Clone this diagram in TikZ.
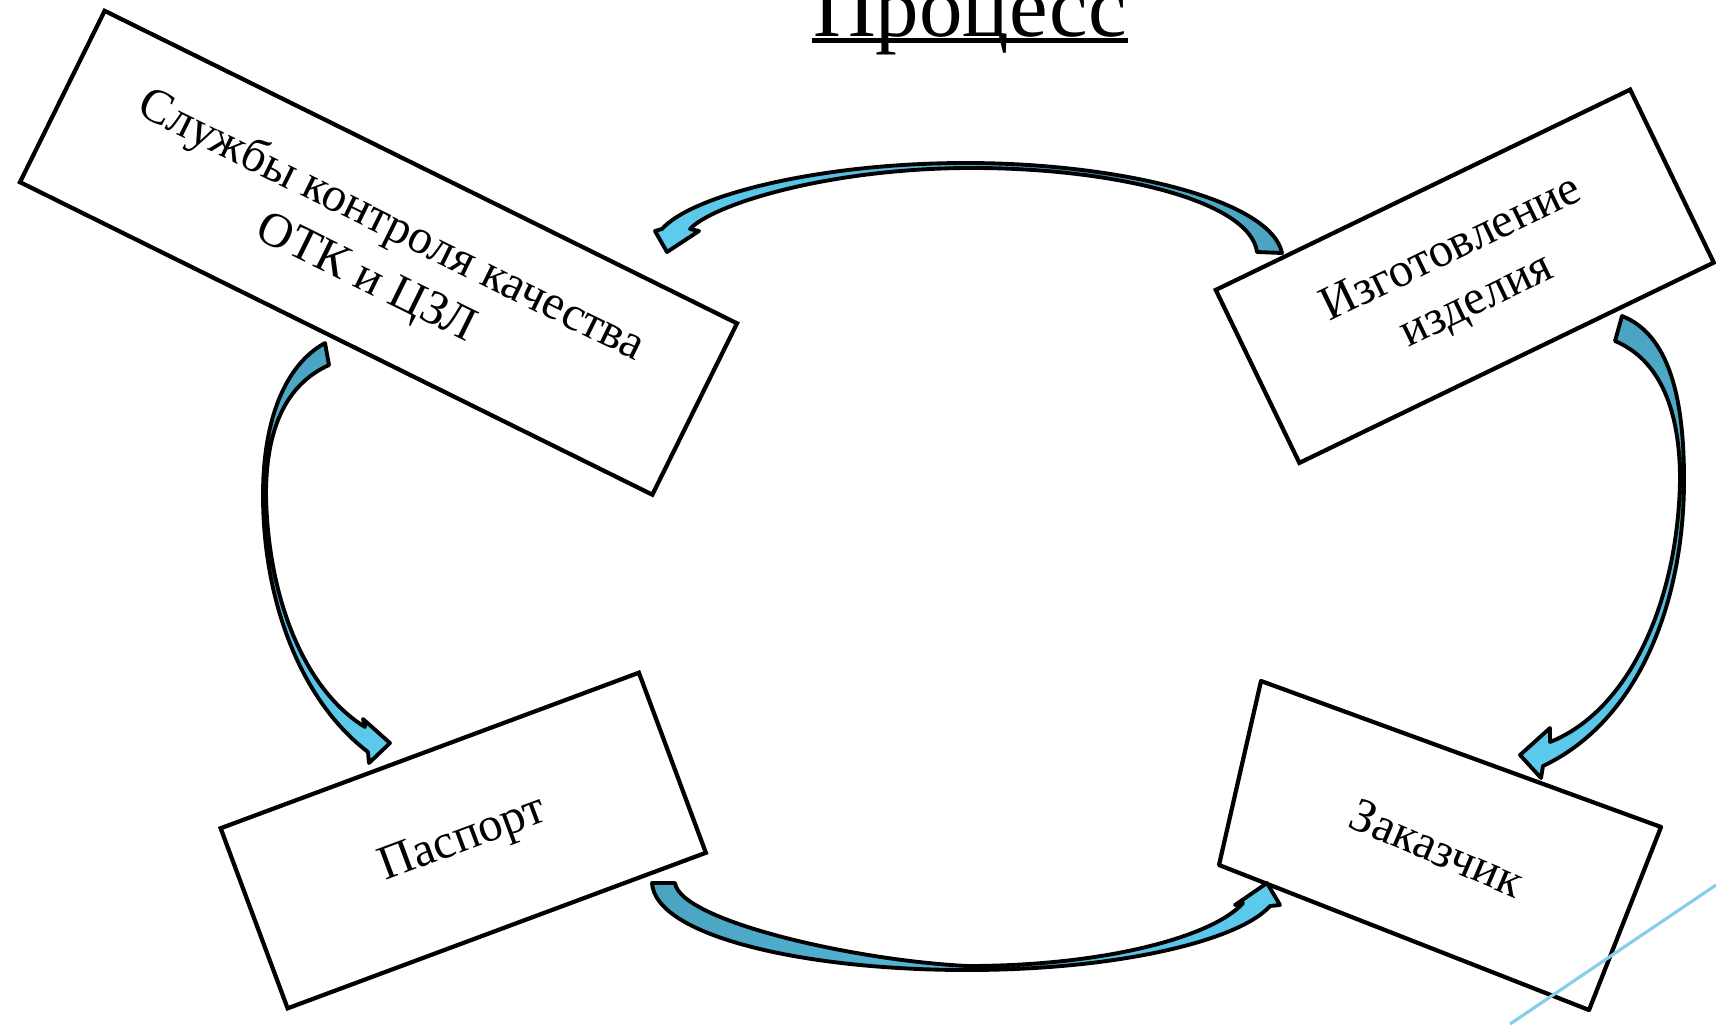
\documentclass[tikz,border=0pt]{standalone}
\usepackage{fontspec}
\setmainfont{Liberation Serif}
\usepackage{xcolor}
\usepackage{tikz}
\usetikzlibrary{positioning}

\definecolor{tailblue}{RGB}{74,163,192}
\definecolor{headblue}{RGB}{93,204,238}
\definecolor{lineblue}{RGB}{135,206,235}

\tikzset{
    box/.style={draw=black, line width=1.2pt, align=center, font=\fontsize{13.8}{16.5}\selectfont},
    bend arrow/.style={draw=black, line width=1.1pt, line join=round}
}

\begin{document}
\begin{tikzpicture}[x=0.01cm, y=-0.01cm]
    \useasboundingbox (0,0) rectangle (1716,1024);

    % title
    \node[anchor=base, inner sep=0pt, font=\fontsize{24.7}{30}\selectfont] (title) at (970,36) {Процесс};
    \draw[line width=1.3pt] ([yshift=-0.45mm]title.base west) -- ([yshift=-0.45mm]title.base east);

    % boxes
    \node[box, rotate=-26.3, minimum width=7.05cm, minimum height=1.91cm] (otk) at (378.5,252.75) {Службы контроля качества\\ОТК и ЦЗЛ};
    \node[box, rotate=25.8, minimum width=4.6cm, minimum height=1.92cm] (izgot) at (1464.75,276.25) {Изготовление\\изделия};
    \node[box, rotate=20.4, minimum width=4.46cm, minimum height=1.92cm] (pasport) at (463.25,840.5) {Паспорт};

    \coordinate (z1) at (1261,681);
    \coordinate (z2) at (1661,827);
    \coordinate (z3) at (1589,1010);
    \coordinate (z4) at (1219,865);
    \draw[line width=1.2pt, line join=round] (z1) -- (z2) -- (z3) -- (z4) -- cycle;
    \node[font=\fontsize{13.8}{16.5}\selectfont, rotate=-23] (zakaz) at (1437,848) {Заказчик};

    % curved arrows
    \draw[bend arrow, left color=headblue, right color=tailblue]
        (1282,253) .. controls (1271,200) and (1120,163) .. (966,163)
        .. controls (820,163) and (692,195) .. (662,229)
        -- (655,231) -- (667,252) -- (699,231) -- (690,229)
        .. controls (712,205) and (825,169) .. (966,168)
        .. controls (1110,167) and (1250,200) .. (1257,252) -- cycle;

    \draw[bend arrow, top color=tailblue, bottom color=headblue]
        (325,343) .. controls (285,365) and (263,420) .. (263,495)
        .. controls (263,600) and (300,700) .. (368,752)
        -- (369,763) -- (390,743) -- (363,719) -- (365,727)
        .. controls (305,690) and (268,600) .. (266,495)
        .. controls (266,430) and (285,385) .. (329,365) -- cycle;

    \draw[bend arrow, top color=tailblue, bottom color=headblue]
        (1622,316) .. controls (1670,335) and (1684,400) .. (1684,480)
        .. controls (1684,600) and (1640,720) .. (1543,766)
        -- (1541,778) -- (1520,755) -- (1550,728) -- (1550,742)
        .. controls (1630,710) and (1678,600) .. (1680,480)
        .. controls (1680,410) and (1660,360) .. (1615,341) -- cycle;

    \draw[bend arrow, left color=tailblue, right color=headblue]
        (652,883) .. controls (655,935) and (800,970) .. (967,970)
        .. controls (1120,970) and (1240,940) .. (1270,906)
        -- (1280,905) -- (1267,883) -- (1235,905) -- (1243,903)
        .. controls (1215,935) and (1110,966) .. (967,966)
        .. controls (850,960) and (680,920) .. (675,883) -- cycle;

    % corner line
    \draw[lineblue, line width=0.9pt] (1510,1024) -- (1716,885);
\end{tikzpicture}
\end{document}
